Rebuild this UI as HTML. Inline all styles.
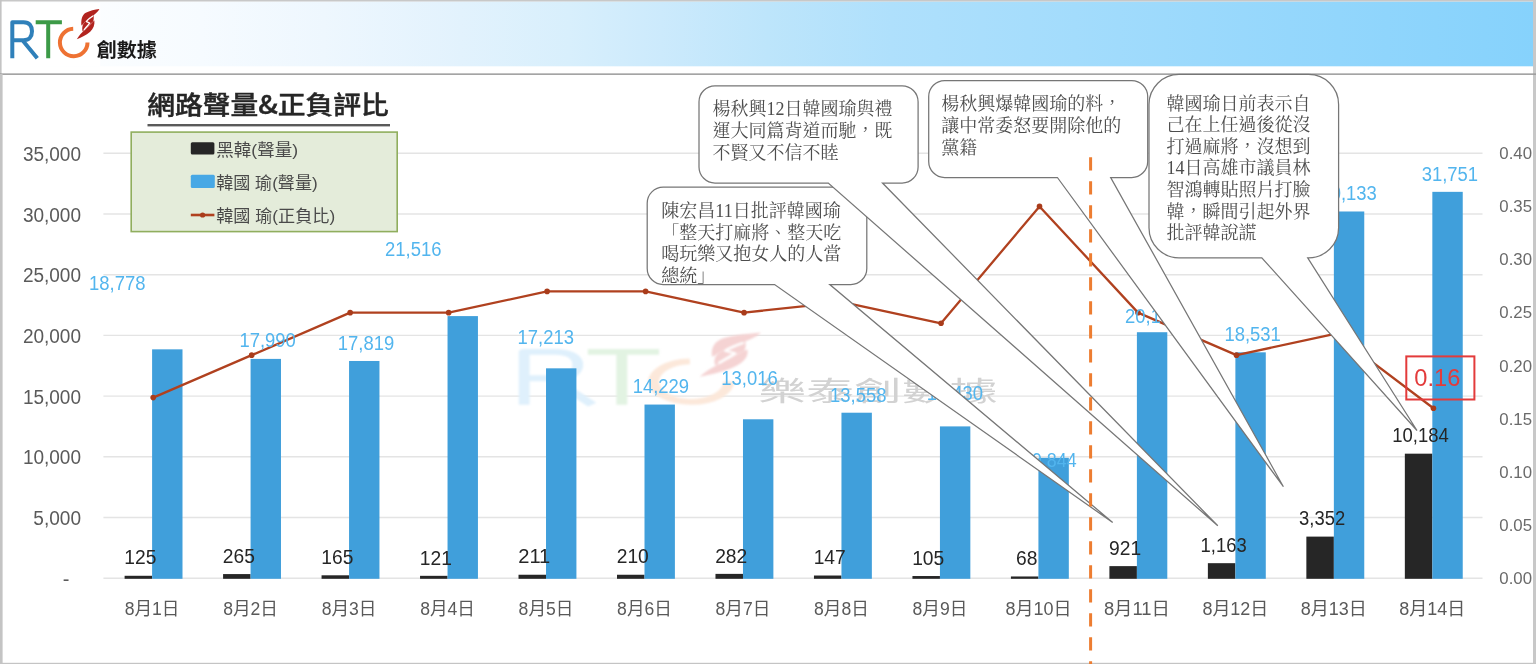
<!DOCTYPE html>
<html lang="zh-Hant"><head><meta charset="utf-8"><title>網路聲量&amp;正負評比</title>
<style>
html,body{margin:0;padding:0;background:#fff;overflow:hidden;}
svg{display:block;will-change:transform;}
.ax{font-family:'Liberation Sans','Noto Sans CJK TC',sans-serif;font-size:20px;fill:#5a5a5a;}
.axr{font-family:'Liberation Sans','Noto Sans CJK TC',sans-serif;font-size:16.5px;fill:#6a6a6a;}
.xl{font-family:'Liberation Sans','Noto Sans CJK TC',sans-serif;font-size:18px;fill:#595959;}
.bl{font-family:'Liberation Sans','Noto Sans CJK TC',sans-serif;font-size:20.3px;fill:#52b5ee;}
.kl{font-family:'Liberation Sans','Noto Sans CJK TC',sans-serif;font-size:19.5px;fill:#262626;}
.co{font-family:'Liberation Serif','Noto Serif CJK TC','Noto Serif CJK SC',serif;font-size:18px;fill:#4d4d4d;}
.lg{font-family:'Liberation Sans','Noto Sans CJK TC',sans-serif;font-size:17px;fill:#4a4a4a;}
</style></head><body>
<svg width="1536" height="664" viewBox="0 0 1536 664">
<defs>
<linearGradient id="hdr" x1="0" y1="0" x2="1" y2="0">
<stop offset="0" stop-color="#ffffff"/>
<stop offset="0.13" stop-color="#f6fbff"/>
<stop offset="0.21" stop-color="#eef7fe"/>
<stop offset="0.30" stop-color="#e2f2fd"/>
<stop offset="0.37" stop-color="#d8effc"/>
<stop offset="0.43" stop-color="#cceafc"/>
<stop offset="0.50" stop-color="#bde5fb"/>
<stop offset="0.58" stop-color="#afe0fc"/>
<stop offset="0.70" stop-color="#a3dcfc"/>
<stop offset="0.84" stop-color="#95d7fc"/>
<stop offset="1" stop-color="#86d2fc"/>
</linearGradient>
<filter id="wblur" x="-5%" y="-5%" width="110%" height="110%"><feGaussianBlur stdDeviation="0.35 0.6"/></filter>
</defs>
<rect x="0" y="0" width="1536" height="664" fill="#ffffff"/>

<rect x="2" y="1.5" width="1532" height="64.8" fill="url(#hdr)"/>
<rect x="5" y="3" width="95.3" height="63" fill="#ffffff"/>
<g fill="none" stroke-width="4.0" stroke-linecap="butt" stroke-linejoin="round">
<path d="M12.3,58.2 V22.2 H23.5 C29.5,22.2 32,26.2 32,31.2 C32,36.4 29.2,40.2 23.5,40.2 H12.3 M22.5,40.2 L37.3,58.2" stroke="#2f80ba"/>
<path d="M35.7,22.2 H61.9 M48.2,22.2 V58.2" stroke="#3c9a47"/>
<path d="M73.2,28.7 A13.8,13.8 0 1 0 87.5,42.5" stroke="#ee7233"/>
</g>
<path d="M99.4,9 C95,9.8 89.5,10.6 85.8,12.8 C82.3,14.8 80.8,19.5 81.4,25.6 C82.8,24.6 84,22.8 85.4,21.2 C87.6,18.9 91.5,16.8 94.8,14.2 C96.8,12.6 98.4,11 99.4,9 Z" fill="#b2241f"/>
<path d="M76.8,39.2 C80.5,37.8 86.2,35.4 90.2,31.8 C93.4,28.9 94.8,25 94.4,20.6 C93.2,21.4 92.1,22.6 91,23.7 C89,25.7 86.6,28 84.3,30.2 C81.6,32.8 78.9,35.6 76.8,39.2 Z" fill="#b2241f"/>
<path d="M85.2,21.5 C86.8,19.6 90,17.6 93.6,15.2 C93.8,17.5 93.9,19.5 93.2,21.4 C91.6,22.6 90,24.4 88.2,26 C86.6,27.6 84.6,29.3 82.6,31.5 C82,29.3 82.2,27.2 82.7,25.3 C83.4,23.9 84.3,22.6 85.2,21.5 Z" fill="#b2241f"/>
<path d="M92.6,16.2 C90.2,17.8 87.4,19.6 86.4,21.6 C88,22.4 89.2,22.6 89.8,23.2 C88.4,25 86.2,27 84.2,29.6" fill="none" stroke="#ffffff" stroke-width="1.3" stroke-linejoin="round" stroke-linecap="round"/>
<text x="96.8" y="56.9" style="font-family:'Noto Sans CJK TC',sans-serif;font-size:19.5px;font-weight:700;fill:#1a1a1a" textLength="60" lengthAdjust="spacingAndGlyphs">創數據</text>
<rect x="0" y="0" width="1536" height="1.5" fill="#c8c8c8"/>
<rect x="0" y="0" width="1.6" height="664" fill="#c4c4c4"/>
<rect x="1533" y="0" width="3" height="664" fill="#c8c8c8"/>
<rect x="0" y="662.8" width="1536" height="1.2" fill="#c4c4c4"/>
<rect x="0" y="73.4" width="1536" height="1.5" fill="#9b9b9b"/>
<rect x="0" y="74" width="2.6" height="590" fill="#c4c4c4"/>
<line x1="103.4" y1="153.30" x2="1482.5" y2="153.30" stroke="#e4e4e4" stroke-width="1.4"/>
<line x1="103.4" y1="214.00" x2="1482.5" y2="214.00" stroke="#e4e4e4" stroke-width="1.4"/>
<line x1="103.4" y1="274.70" x2="1482.5" y2="274.70" stroke="#e4e4e4" stroke-width="1.4"/>
<line x1="103.4" y1="335.40" x2="1482.5" y2="335.40" stroke="#e4e4e4" stroke-width="1.4"/>
<line x1="103.4" y1="396.10" x2="1482.5" y2="396.10" stroke="#e4e4e4" stroke-width="1.4"/>
<line x1="103.4" y1="456.80" x2="1482.5" y2="456.80" stroke="#e4e4e4" stroke-width="1.4"/>
<line x1="103.4" y1="517.50" x2="1482.5" y2="517.50" stroke="#e4e4e4" stroke-width="1.4"/>
<line x1="103.4" y1="578.20" x2="1482.5" y2="578.20" stroke="#e4e4e4" stroke-width="1.4"/>
<g filter="url(#wblur)" transform="translate(519 349.2) scale(2.72 1.467) translate(-10.4 -20.4)">
<g fill="none" stroke-width="4.0" stroke-linecap="butt" stroke-linejoin="round">
<path d="M12.3,58.2 V22.2 H23.5 C29.5,22.2 32,26.2 32,31.2 C32,36.4 29.2,40.2 23.5,40.2 H12.3 M22.5,40.2 L37.3,58.2" stroke="#dff0fc"/>
<path d="M35.7,22.2 H61.9 M48.2,22.2 V58.2" stroke="#e2f3e2"/>
<path d="M73.2,28.7 A13.8,13.8 0 1 0 87.5,42.5" stroke="#fce8da"/>
</g>
<path d="M99.4,9 C95,9.8 89.5,10.6 85.8,12.8 C82.3,14.8 80.8,19.5 81.4,25.6 C82.8,24.6 84,22.8 85.4,21.2 C87.6,18.9 91.5,16.8 94.8,14.2 C96.8,12.6 98.4,11 99.4,9 Z" fill="#f5d3d3"/>
<path d="M76.8,39.2 C80.5,37.8 86.2,35.4 90.2,31.8 C93.4,28.9 94.8,25 94.4,20.6 C93.2,21.4 92.1,22.6 91,23.7 C89,25.7 86.6,28 84.3,30.2 C81.6,32.8 78.9,35.6 76.8,39.2 Z" fill="#f5d3d3"/>
<path d="M85.2,21.5 C86.8,19.6 90,17.6 93.6,15.2 C93.8,17.5 93.9,19.5 93.2,21.4 C91.6,22.6 90,24.4 88.2,26 C86.6,27.6 84.6,29.3 82.6,31.5 C82,29.3 82.2,27.2 82.7,25.3 C83.4,23.9 84.3,22.6 85.2,21.5 Z" fill="#f5d3d3"/>
<path d="M92.6,16.2 C90.2,17.8 87.4,19.6 86.4,21.6 C88,22.4 89.2,22.6 89.8,23.2 C88.4,25 86.2,27 84.2,29.6" fill="none" stroke="#ffffff" stroke-width="1.3" stroke-linejoin="round" stroke-linecap="round"/>
</g>
<text x="758.5" y="401" style="font-family:'Noto Sans CJK TC',sans-serif;font-size:27.5px;fill:#d2d2d2" textLength="239" lengthAdjust="spacingAndGlyphs">樂泰創數據</text>
<rect x="124.60" y="575.78" width="27.5" height="3.02" fill="#262626"/>
<rect x="152.10" y="349.34" width="30.4" height="229.46" fill="#409fdb"/>
<rect x="223.08" y="574.08" width="27.5" height="4.72" fill="#262626"/>
<rect x="250.58" y="358.90" width="30.4" height="219.90" fill="#409fdb"/>
<rect x="321.56" y="575.30" width="27.5" height="3.50" fill="#262626"/>
<rect x="349.06" y="360.98" width="30.4" height="217.82" fill="#409fdb"/>
<rect x="420.04" y="575.83" width="27.5" height="2.97" fill="#262626"/>
<rect x="447.54" y="316.10" width="30.4" height="262.70" fill="#409fdb"/>
<rect x="518.52" y="574.74" width="27.5" height="4.06" fill="#262626"/>
<rect x="546.02" y="368.33" width="30.4" height="210.47" fill="#409fdb"/>
<rect x="617.00" y="574.75" width="27.5" height="4.05" fill="#262626"/>
<rect x="644.50" y="404.56" width="30.4" height="174.24" fill="#409fdb"/>
<rect x="715.48" y="573.88" width="27.5" height="4.92" fill="#262626"/>
<rect x="742.98" y="419.29" width="30.4" height="159.51" fill="#409fdb"/>
<rect x="813.96" y="575.52" width="27.5" height="3.28" fill="#262626"/>
<rect x="841.46" y="412.71" width="30.4" height="166.09" fill="#409fdb"/>
<rect x="912.44" y="576.03" width="27.5" height="2.77" fill="#262626"/>
<rect x="939.94" y="426.40" width="30.4" height="152.40" fill="#409fdb"/>
<rect x="1010.92" y="576.47" width="27.5" height="2.33" fill="#262626"/>
<rect x="1038.42" y="457.79" width="30.4" height="121.01" fill="#409fdb"/>
<rect x="1109.40" y="566.12" width="27.5" height="12.68" fill="#262626"/>
<rect x="1136.90" y="332.22" width="30.4" height="246.58" fill="#409fdb"/>
<rect x="1207.88" y="563.18" width="27.5" height="15.62" fill="#262626"/>
<rect x="1235.38" y="352.33" width="30.4" height="226.47" fill="#409fdb"/>
<rect x="1306.36" y="536.61" width="27.5" height="42.19" fill="#262626"/>
<rect x="1333.86" y="211.49" width="30.4" height="367.31" fill="#409fdb"/>
<rect x="1404.84" y="453.67" width="27.5" height="125.13" fill="#262626"/>
<rect x="1432.34" y="191.84" width="30.4" height="386.96" fill="#409fdb"/>
<polyline points="153.20,397.62 251.68,355.13 350.16,312.64 448.64,312.64 547.12,291.39 645.60,291.39 744.08,312.64 842.56,302.02 941.04,323.26 1039.52,206.41 1138.00,312.64 1236.48,355.13 1334.96,333.88 1433.44,408.24" fill="none" stroke="#b0411f" stroke-width="2.3" stroke-linejoin="round"/>
<circle cx="153.20" cy="397.62" r="2.8" fill="#a93c1b"/>
<circle cx="251.68" cy="355.13" r="2.8" fill="#a93c1b"/>
<circle cx="350.16" cy="312.64" r="2.8" fill="#a93c1b"/>
<circle cx="448.64" cy="312.64" r="2.8" fill="#a93c1b"/>
<circle cx="547.12" cy="291.39" r="2.8" fill="#a93c1b"/>
<circle cx="645.60" cy="291.39" r="2.8" fill="#a93c1b"/>
<circle cx="744.08" cy="312.64" r="2.8" fill="#a93c1b"/>
<circle cx="842.56" cy="302.02" r="2.8" fill="#a93c1b"/>
<circle cx="941.04" cy="323.26" r="2.8" fill="#a93c1b"/>
<circle cx="1039.52" cy="206.41" r="2.8" fill="#a93c1b"/>
<circle cx="1138.00" cy="312.64" r="2.8" fill="#a93c1b"/>
<circle cx="1236.48" cy="355.13" r="2.8" fill="#a93c1b"/>
<circle cx="1334.96" cy="333.88" r="2.8" fill="#a93c1b"/>
<circle cx="1433.44" cy="408.24" r="2.8" fill="#a93c1b"/>
<text class="bl" x="89.00" y="289.60" textLength="56.4" lengthAdjust="spacingAndGlyphs">18,778</text>
<text class="bl" x="239.40" y="347.00" textLength="56.4" lengthAdjust="spacingAndGlyphs">17,990</text>
<text class="bl" x="337.80" y="350.30" textLength="56.4" lengthAdjust="spacingAndGlyphs">17,819</text>
<text class="bl" x="385.10" y="256.00" textLength="56.4" lengthAdjust="spacingAndGlyphs">21,516</text>
<text class="bl" x="517.60" y="344.00" textLength="56.4" lengthAdjust="spacingAndGlyphs">17,213</text>
<text class="bl" x="632.70" y="392.90" textLength="56.4" lengthAdjust="spacingAndGlyphs">14,229</text>
<text class="bl" x="721.30" y="385.10" textLength="56.4" lengthAdjust="spacingAndGlyphs">13,016</text>
<text class="bl" x="830.10" y="401.50" textLength="56.4" lengthAdjust="spacingAndGlyphs">13,558</text>
<text class="bl" x="926.70" y="399.80" textLength="56.4" lengthAdjust="spacingAndGlyphs">12,430</text>
<text class="bl" x="1032.00" y="467.00" textLength="44.6" lengthAdjust="spacingAndGlyphs">9,844</text>
<text class="bl" x="1125.00" y="322.70" textLength="56.4" lengthAdjust="spacingAndGlyphs">20,188</text>
<text class="bl" x="1224.40" y="341.30" textLength="56.4" lengthAdjust="spacingAndGlyphs">18,531</text>
<text class="bl" x="1320.40" y="199.80" textLength="56.4" lengthAdjust="spacingAndGlyphs">30,133</text>
<text class="bl" x="1421.70" y="180.50" textLength="56.4" lengthAdjust="spacingAndGlyphs">31,751</text>
<text class="kl" x="124.30" y="564.48" textLength="32.1" lengthAdjust="spacingAndGlyphs">125</text>
<text class="kl" x="222.78" y="562.78" textLength="32.1" lengthAdjust="spacingAndGlyphs">265</text>
<text class="kl" x="321.26" y="564.00" textLength="32.1" lengthAdjust="spacingAndGlyphs">165</text>
<text class="kl" x="419.74" y="564.53" textLength="32.1" lengthAdjust="spacingAndGlyphs">121</text>
<text class="kl" x="518.22" y="563.44" textLength="32.1" lengthAdjust="spacingAndGlyphs">211</text>
<text class="kl" x="616.70" y="563.45" textLength="32.1" lengthAdjust="spacingAndGlyphs">210</text>
<text class="kl" x="715.18" y="562.58" textLength="32.1" lengthAdjust="spacingAndGlyphs">282</text>
<text class="kl" x="813.66" y="564.22" textLength="32.1" lengthAdjust="spacingAndGlyphs">147</text>
<text class="kl" x="912.14" y="564.73" textLength="32.1" lengthAdjust="spacingAndGlyphs">105</text>
<text class="kl" x="1015.97" y="565.17" textLength="21.4" lengthAdjust="spacingAndGlyphs">68</text>
<text class="kl" x="1109.10" y="554.82" textLength="32.1" lengthAdjust="spacingAndGlyphs">921</text>
<text class="kl" x="1200.58" y="551.88" textLength="46.1" lengthAdjust="spacingAndGlyphs">1,163</text>
<text class="kl" x="1299.06" y="525.31" textLength="46.1" lengthAdjust="spacingAndGlyphs">3,352</text>
<text class="kl" x="1392.34" y="442.37" textLength="56.5" lengthAdjust="spacingAndGlyphs">10,184</text>
<text class="ax" x="22.90" y="160.90" textLength="58.1" lengthAdjust="spacingAndGlyphs">35,000</text>
<text class="ax" x="22.90" y="221.60" textLength="58.1" lengthAdjust="spacingAndGlyphs">30,000</text>
<text class="ax" x="22.90" y="282.30" textLength="58.1" lengthAdjust="spacingAndGlyphs">25,000</text>
<text class="ax" x="22.90" y="343.00" textLength="58.1" lengthAdjust="spacingAndGlyphs">20,000</text>
<text class="ax" x="22.90" y="403.70" textLength="58.1" lengthAdjust="spacingAndGlyphs">15,000</text>
<text class="ax" x="22.90" y="464.40" textLength="58.1" lengthAdjust="spacingAndGlyphs">10,000</text>
<text class="ax" x="33.30" y="525.10" textLength="47.7" lengthAdjust="spacingAndGlyphs">5,000</text>
<text class="ax" x="62.8" y="586.40">-</text>
<text class="axr" x="1499.3" y="159.10" textLength="32.7" lengthAdjust="spacingAndGlyphs">0.40</text>
<text class="axr" x="1499.3" y="212.21" textLength="32.7" lengthAdjust="spacingAndGlyphs">0.35</text>
<text class="axr" x="1499.3" y="265.33" textLength="32.7" lengthAdjust="spacingAndGlyphs">0.30</text>
<text class="axr" x="1499.3" y="318.44" textLength="32.7" lengthAdjust="spacingAndGlyphs">0.25</text>
<text class="axr" x="1499.3" y="371.55" textLength="32.7" lengthAdjust="spacingAndGlyphs">0.20</text>
<text class="axr" x="1499.3" y="424.66" textLength="32.7" lengthAdjust="spacingAndGlyphs">0.15</text>
<text class="axr" x="1499.3" y="477.78" textLength="32.7" lengthAdjust="spacingAndGlyphs">0.10</text>
<text class="axr" x="1499.3" y="530.89" textLength="32.7" lengthAdjust="spacingAndGlyphs">0.05</text>
<text class="axr" x="1499.3" y="584.00" textLength="32.7" lengthAdjust="spacingAndGlyphs">0.00</text>
<text class="xl" x="124.70" y="614.8" textLength="54.8" lengthAdjust="spacingAndGlyphs">8月1日</text>
<text class="xl" x="223.18" y="614.8" textLength="54.8" lengthAdjust="spacingAndGlyphs">8月2日</text>
<text class="xl" x="321.66" y="614.8" textLength="54.8" lengthAdjust="spacingAndGlyphs">8月3日</text>
<text class="xl" x="420.14" y="614.8" textLength="54.8" lengthAdjust="spacingAndGlyphs">8月4日</text>
<text class="xl" x="518.62" y="614.8" textLength="54.8" lengthAdjust="spacingAndGlyphs">8月5日</text>
<text class="xl" x="617.10" y="614.8" textLength="54.8" lengthAdjust="spacingAndGlyphs">8月6日</text>
<text class="xl" x="715.58" y="614.8" textLength="54.8" lengthAdjust="spacingAndGlyphs">8月7日</text>
<text class="xl" x="814.06" y="614.8" textLength="54.8" lengthAdjust="spacingAndGlyphs">8月8日</text>
<text class="xl" x="912.54" y="614.8" textLength="54.8" lengthAdjust="spacingAndGlyphs">8月9日</text>
<text class="xl" x="1005.42" y="614.8" textLength="66.0" lengthAdjust="spacingAndGlyphs">8月10日</text>
<text class="xl" x="1103.90" y="614.8" textLength="66.0" lengthAdjust="spacingAndGlyphs">8月11日</text>
<text class="xl" x="1202.38" y="614.8" textLength="66.0" lengthAdjust="spacingAndGlyphs">8月12日</text>
<text class="xl" x="1300.86" y="614.8" textLength="66.0" lengthAdjust="spacingAndGlyphs">8月13日</text>
<text class="xl" x="1399.34" y="614.8" textLength="66.0" lengthAdjust="spacingAndGlyphs">8月14日</text>
<text x="147.3" y="113.8" style="font-family:'Noto Sans CJK TC',sans-serif;font-size:25px;font-weight:500;fill:#262626;stroke:#262626;stroke-width:0.45" textLength="241.5" lengthAdjust="spacingAndGlyphs">網路聲量&amp;正負評比</text>
<rect x="147.5" y="124.0" width="242.5" height="2.4" fill="#5a5a5a"/>
<rect x="131.2" y="132.1" width="266" height="99.5" fill="#e4ecda" stroke="#90ae5e" stroke-width="1.6"/>
<rect x="190.8" y="142.3" width="23.6" height="12.1" rx="1.5" fill="#262626"/>
<rect x="190.8" y="174.7" width="24" height="13.3" rx="1.5" fill="#47a8e5"/>
<line x1="190.8" y1="215" x2="214.4" y2="215" stroke="#b0411f" stroke-width="2.6"/>
<circle cx="202.6" cy="215" r="2.6" fill="#a93c1b"/>
<text class="lg" x="216.2" y="155.5" textLength="82" lengthAdjust="spacingAndGlyphs">黑韓(聲量)</text>
<text class="lg" x="216.2" y="188.5" textLength="101.5" lengthAdjust="spacingAndGlyphs">韓國 瑜(聲量)</text>
<text class="lg" x="216.2" y="221.5" textLength="119" lengthAdjust="spacingAndGlyphs">韓國 瑜(正負比)</text>
<path d="M663.20,187.20 H850.80 A16,16 0 0 1 866.80,203.20 V268.50 A16,16 0 0 1 850.80,284.50 H829.80 L1112.70,522.50 L774.60,284.50 H663.20 A16,16 0 0 1 647.20,268.50 V203.20 A16,16 0 0 1 663.20,187.20 Z" fill="#ffffff" stroke="#767676" stroke-width="1.25"/>
<text class="co" x="661.30" y="217.00">陳宏昌11日批評韓國瑜</text>
<text class="co" x="661.30" y="238.50">「整天打麻將、整天吃</text>
<text class="co" x="661.30" y="260.00">喝玩樂又抱女人的人當</text>
<text class="co" x="661.30" y="281.50">總統」</text>
<path d="M715.00,85.80 H902.10 A16,16 0 0 1 918.10,101.80 V167.00 A16,16 0 0 1 902.10,183.00 H882.50 L1217.80,525.80 L828.30,183.00 H715.00 A16,16 0 0 1 699.00,167.00 V101.80 A16,16 0 0 1 715.00,85.80 Z" fill="#ffffff" stroke="#767676" stroke-width="1.25"/>
<text class="co" x="712.60" y="114.80">楊秋興12日韓國瑜與禮</text>
<text class="co" x="712.60" y="136.90">運大同篇背道而馳，既</text>
<text class="co" x="712.60" y="159.00">不賢又不信不睦</text>
<path d="M944.70,80.50 H1131.70 A16,16 0 0 1 1147.70,96.50 V161.50 A16,16 0 0 1 1131.70,177.50 H1110.70 L1283.40,486.70 L1057.40,177.50 H944.70 A16,16 0 0 1 928.70,161.50 V96.50 A16,16 0 0 1 944.70,80.50 Z" fill="#ffffff" stroke="#767676" stroke-width="1.25"/>
<text class="co" x="941.30" y="110.20">楊秋興爆韓國瑜的料，</text>
<text class="co" x="941.30" y="132.30">讓中常委怒要開除他的</text>
<text class="co" x="941.30" y="154.40">黨籍</text>
<path d="M1179.00,74.40 H1308.60 A30,30 0 0 1 1338.60,104.40 V227.80 A30,30 0 0 1 1308.60,257.80 H1307.70 L1417.00,430.50 L1261.80,257.80 H1179.00 A30,30 0 0 1 1149.00,227.80 V104.40 A30,30 0 0 1 1179.00,74.40 Z" fill="#ffffff" stroke="#767676" stroke-width="1.25"/>
<text class="co" x="1166.40" y="109.50">韓國瑜日前表示自</text>
<text class="co" x="1166.40" y="131.10">己在上任過後從沒</text>
<text class="co" x="1166.40" y="152.70">打過麻將，沒想到</text>
<text class="co" x="1166.40" y="174.30">14日高雄市議員林</text>
<text class="co" x="1166.40" y="195.90">智鴻轉貼照片打臉</text>
<text class="co" x="1166.40" y="217.50">韓，瞬間引起外界</text>
<text class="co" x="1166.40" y="239.10">批評韓說謊</text>
<line x1="1090.6" y1="157.2" x2="1090.6" y2="664" stroke="#ed7d31" stroke-width="3" stroke-dasharray="13.4 10.6"/>
<rect x="1406.3" y="356.4" width="68.1" height="43.1" fill="none" stroke="#e33b3b" stroke-width="2"/>
<text x="1414.3" y="386" style="font-family:'Liberation Sans',sans-serif;font-size:23.5px;fill:#e33b3b" textLength="46" lengthAdjust="spacingAndGlyphs">0.16</text>
</svg>
</body></html>
